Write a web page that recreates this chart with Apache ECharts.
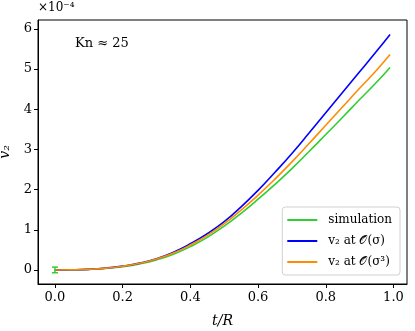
<!DOCTYPE html>
<html>
<head>
<meta charset="utf-8">
<script src="https://cdn.jsdelivr.net/npm/echarts@6/dist/echarts.min.js"></script>
<style>
  html, body { margin: 0; padding: 0; background: #fff; }
  #chart { width: 415px; height: 331px; }
</style>
</head>
<body>
<div id="chart"></div>
<script>
  // t/R sample points and v2 values (in units of 1e-4)
  const tValues = [0, 0.05, 0.1, 0.15, 0.2, 0.25, 0.3, 0.35, 0.4, 0.45, 0.5, 0.55, 0.6, 0.65, 0.7, 0.75, 0.8, 0.85, 0.9, 0.95, 0.99]
  const simValues = [0, 0.003, 0.013, 0.04, 0.082, 0.15, 0.25, 0.39, 0.58, 0.81, 1.09, 1.41, 1.76, 2.13, 2.52, 2.94, 3.37, 3.8, 4.24, 4.67, 5.04]
  const sigma1Values = [0, 0.003, 0.015, 0.045, 0.095, 0.17, 0.28, 0.44, 0.65, 0.9, 1.2, 1.57, 1.98, 2.43, 2.9, 3.4, 3.91, 4.42, 4.93, 5.44, 5.86]
  const sigma3Values = [0, 0.003, 0.015, 0.044, 0.092, 0.165, 0.27, 0.42, 0.62, 0.86, 1.15, 1.49, 1.86, 2.26, 2.69, 3.14, 3.6, 4.06, 4.52, 4.97, 5.36]
  // error bar of the simulation at t = 0
  const errT = [0]
  const errMid = [0]
  const errHalf = [0.07]
  const xTicks = [0, 0.2, 0.4, 0.6, 0.8, 1.0]
  const yTicks = [0, 1, 2, 3, 4, 5, 6]
  const seriesNames = ['simulation', 'v₂ at 𝒪(σ)', 'v₂ at 𝒪(σ³)']

  const colors = ['#32cd32', '#0000ff', '#ff8c00']
  const serif = 'DejaVu Serif'

  const pairs = (ys) => tValues.map((t, i) => [t, ys[i]])

  const chart = echarts.init(document.getElementById('chart'))
  chart.setOption({
    animation: false,
    color: colors,
    textStyle: { fontFamily: serif },
    grid: {
      left: 38, right: 8, top: 20, bottom: 47,
      outerBoundsMode: 'none',
      containLabel: false,
      show: true, borderColor: '#000', borderWidth: 1
    },
    legend: {
      orient: 'vertical',
      right: 15,
      top: 207,
      data: seriesNames,
      icon: 'rect',
      itemWidth: 30,
      itemHeight: 2,
      itemGap: 9,
      padding: [7, 8, 7, 5],
      backgroundColor: 'rgba(255,255,255,0.8)',
      borderColor: '#d0d0d0',
      borderWidth: 1,
      borderRadius: 3,
      textStyle: { fontFamily: serif, fontSize: 12, color: '#000', padding: [0, 0, 0, 6] }
    },
    graphic: [
      { type: 'text', left: 38, top: 2, style: { text: '×10⁻⁴', fontFamily: serif, fontSize: 12, fill: '#000' } },
      { type: 'text', left: 75, top: 37, style: { text: 'Kn ≈ 25', fontFamily: serif, fontSize: 13, fill: '#000' } }
    ],
    xAxis: {
      type: 'value',
      min: -0.05,
      max: 1.04,
      name: 't/R',
      nameLocation: 'middle',
      nameGap: 30,
      nameTextStyle: { fontFamily: serif, fontSize: 14, fontStyle: 'italic', color: '#000' },
      axisLine: { show: true, onZero: false, lineStyle: { color: '#000' } },
      axisTick: { show: true, length: 4, customValues: xTicks, lineStyle: { color: '#000' } },
      axisLabel: {
        customValues: xTicks,
        margin: 7,
        fontFamily: serif,
        fontSize: 13,
        color: '#000',
        formatter: (v) => v.toFixed(1)
      },
      splitLine: { show: false }
    },
    yAxis: {
      type: 'value',
      min: -0.35,
      max: 6.22,
      name: 'v₂',
      nameLocation: 'middle',
      nameRotate: 90,
      nameGap: 22,
      nameTextStyle: { fontFamily: serif, fontSize: 14, fontStyle: 'italic', color: '#000' },
      axisLine: { show: true, onZero: false, lineStyle: { color: '#000' } },
      axisTick: { show: true, length: 4, customValues: yTicks, lineStyle: { color: '#000' } },
      axisLabel: { customValues: yTicks, margin: 6, fontFamily: serif, fontSize: 13, color: '#000' },
      splitLine: { show: false }
    },
    series: [
      {
        name: seriesNames[0], type: 'line', data: pairs(simValues),
        smooth: true, showSymbol: false, lineStyle: { width: 1.6 }, z: 2
      },
      {
        name: seriesNames[1], type: 'line', data: pairs(sigma1Values),
        smooth: true, showSymbol: false, lineStyle: { width: 1.6 }, z: 3
      },
      {
        name: seriesNames[2], type: 'line', data: pairs(sigma3Values),
        smooth: true, showSymbol: false, lineStyle: { width: 1.6 }, z: 4
      },
      {
        type: 'custom',
        data: errT.map((t, i) => [t, errMid[i] - errHalf[i], errMid[i] + errHalf[i]]),
        z: 5,
        renderItem: function(params, api) {
          const lo = api.coord([api.value(0), api.value(1)])
          const hi = api.coord([api.value(0), api.value(2)])
          const cap = 3
          const style = { stroke: colors[0], lineWidth: 1.5 }
          return {
            type: 'group',
            children: [
              { type: 'line', shape: { x1: lo[0], y1: lo[1], x2: hi[0], y2: hi[1] }, style },
              { type: 'line', shape: { x1: lo[0] - cap, y1: lo[1], x2: lo[0] + cap, y2: lo[1] }, style },
              { type: 'line', shape: { x1: hi[0] - cap, y1: hi[1], x2: hi[0] + cap, y2: hi[1] }, style }
            ]
          }
        }
      }
    ]
  })
</script>
</body>
</html>
